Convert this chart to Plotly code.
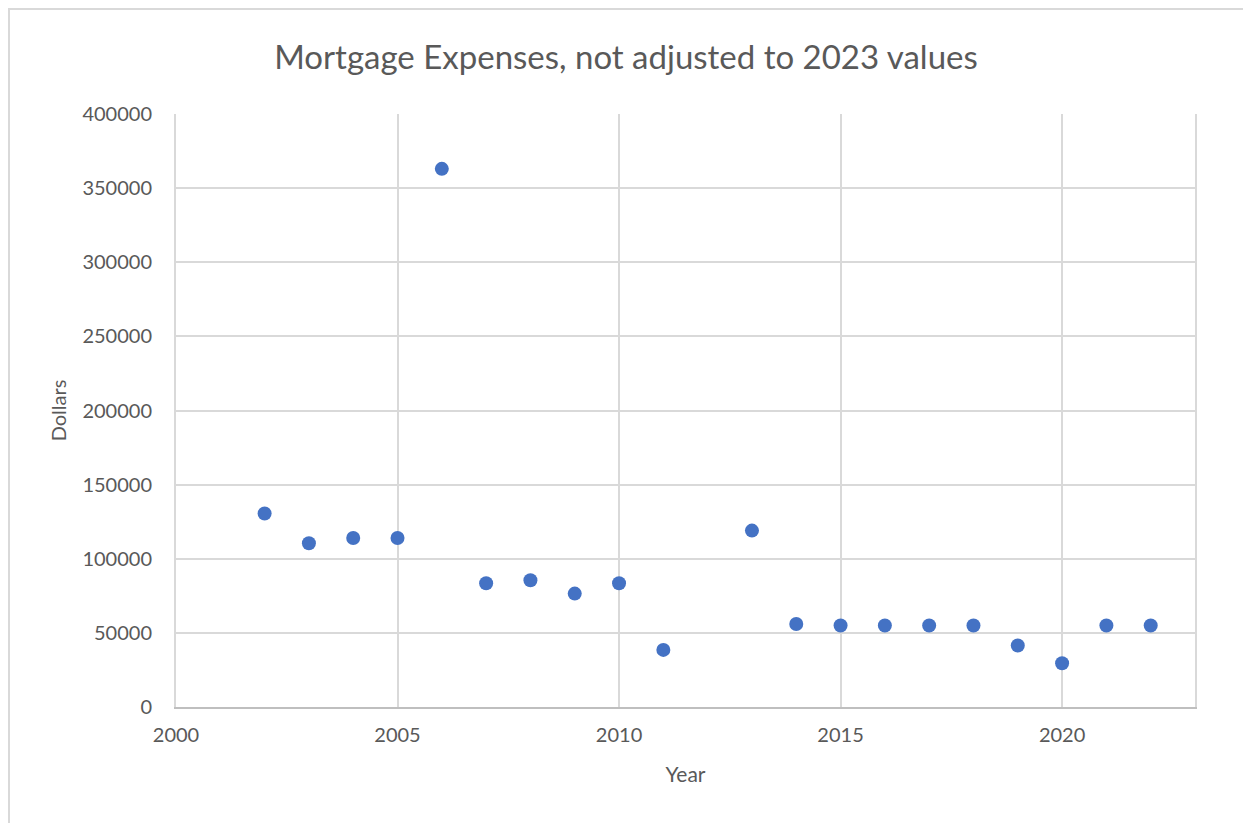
import plotly.graph_objects as go

years = [2002, 2003, 2004, 2005, 2006, 2007, 2008, 2009, 2010, 2011,
         2013, 2014, 2015, 2016, 2017, 2018, 2019, 2020, 2021, 2022]
dollars = [130500, 110500, 114000, 114000, 363000, 83500, 85500, 76500, 83500, 38500,
           119000, 56000, 55000, 55000, 55000, 55000, 41500, 29500, 55000, 55000]

x_ticks = [2000, 2005, 2010, 2015, 2020]
y_ticks = [0, 50000, 100000, 150000, 200000, 250000, 300000, 350000, 400000]

font_family = 'Lato, "Open Sans", sans-serif'
grey = '#595959'

fig = go.Figure()
fig.add_trace(go.Scatter(x=years, y=dollars, mode='markers',
                         marker=dict(color='#4472C4', size=14)))

fig.update_layout(
    width=1251, height=823,
    paper_bgcolor='white', plot_bgcolor='white',
    margin=dict(l=168, r=64, t=106, b=124),
    showlegend=False,
    title=dict(text='Mortgage Expenses, not adjusted to 2023 values',
               x=0.494, xanchor='center', y=0.9405, yanchor='middle',
               font=dict(family=font_family, size=33, color=grey)),
    font=dict(family=font_family, color=grey),
)
fig.update_xaxes(range=[2000, 2023], tickvals=x_ticks, showgrid=True,
                 gridcolor='#d9d9d9', gridwidth=2, zeroline=False,
                 showline=True, linecolor='#bfbfbf', linewidth=2, mirror=False,
                 ticks='', ticklabelstandoff=9, tickfont=dict(size=20, color=grey),
                 title=dict(text='Year', font=dict(size=21, color=grey), standoff=22))
fig.update_yaxes(range=[0, 400000], tickvals=y_ticks, tickformat='d', showgrid=True,
                 gridcolor='#d9d9d9', gridwidth=2, zeroline=False,
                 showline=True, linecolor='#d9d9d9', linewidth=2, mirror=True,
                 ticks='', ticklabelstandoff=18, tickfont=dict(size=20, color=grey),
                 title=dict(text='Dollars', font=dict(size=20, color=grey), standoff=10))

# outer chart border (only left and top edges fall inside the picture)
fig.add_shape(type='rect', xref='paper', yref='paper',
              x0=-0.1639, y0=-0.4, x1=1.2, y1=1.1771,
              line=dict(color='#d9d9d9', width=2), layer='below')

fig.write_html('out.html')
